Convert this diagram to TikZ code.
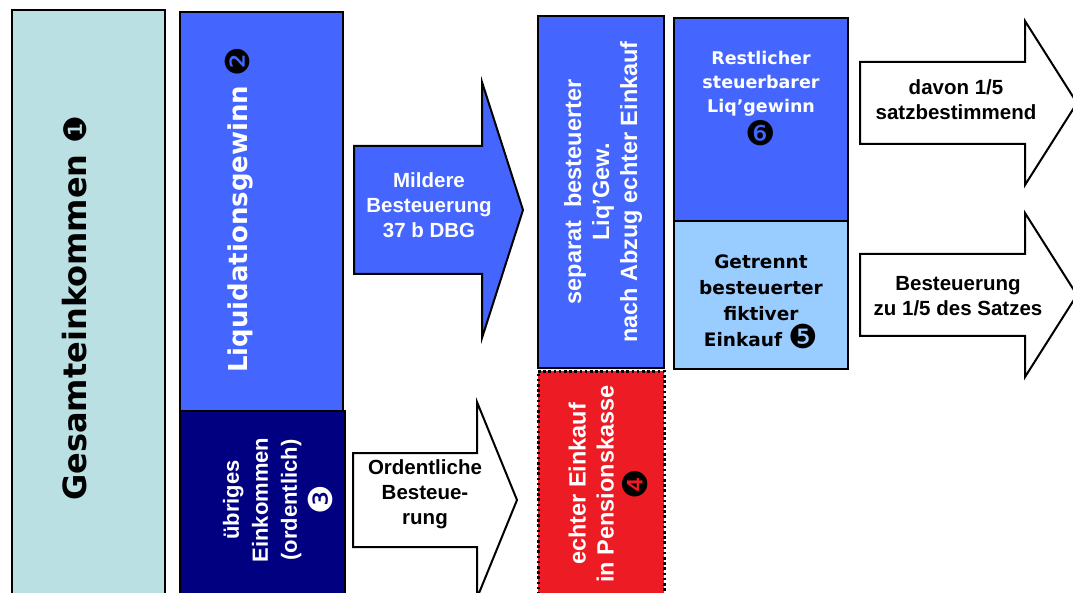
\documentclass[tikz,border=0pt]{standalone}
\usepackage{fontspec}
\setmainfont{Liberation Sans}
\newfontfamily\vfont{DejaVu Sans}
\newfontfamily\dv{DejaVu Sans}[BoldFont=DejaVu Sans]
\definecolor{teal1}{HTML}{BBE0E3}
\definecolor{blue1}{HTML}{4466FF}
\definecolor{navy1}{HTML}{000080}
\definecolor{red1}{HTML}{ED1C24}
\definecolor{lblue1}{HTML}{99CCFF}
% \cnum[colour]{size}{glyph}
\newcommand{\cnum}[3][black]{\smash{\dv\color{#1}\fontsize{#2}{#2}\selectfont #3}}
\begin{document}
\begin{tikzpicture}[x=1pt,y=-1pt,
  boxst/.style={draw=black,line width=1.5pt},
  arrst/.style={draw=black,line width=2pt,line join=miter},
  arial/.style={font=\bfseries\fontsize{20.5}{25}\selectfont,align=center,inner sep=0pt},
  vtxt/.style={align=center,inner sep=0pt,rotate=90}]
\path[use as bounding box,clip] (0,0) rectangle (1073,593);
\fill[white] (0,0) rectangle (1073,593);

% boxes
\draw[boxst,fill=teal1] (12,10) rectangle (165,605);
\draw[boxst,fill=blue1] (180,12) rectangle (343,411);
\draw[boxst,fill=navy1] (180,411) rectangle (345,605);
\draw[boxst,fill=blue1] (538,16) rectangle (664,368);
\fill[red1] (538,371) rectangle (664,605);
\draw[line width=3pt,dash pattern=on 2.6pt off 2.6pt] (538,605) -- (538,371) -- (664,371) -- (664,605);
\draw[boxst,fill=blue1] (674,18) rectangle (848,221);
\draw[boxst,fill=lblue1] (674,221) rectangle (848,369);

% arrows
\draw[arrst,fill=blue1] (354,146) -- (482,146) -- (482,82) -- (523,210) -- (482,338) -- (482,274) -- (354,274) -- cycle;
\draw[arrst,fill=white] (353,453) -- (477,453) -- (477,402) -- (517,500) -- (477,598) -- (477,547) -- (353,547) -- cycle;
\draw[arrst,fill=white] (860,62) -- (1025,62) -- (1025,21) -- (1077,103) -- (1025,185) -- (1025,144) -- (860,144) -- cycle;
\draw[arrst,fill=white] (860,254) -- (1025,254) -- (1025,213) -- (1077,295) -- (1025,377) -- (1025,336) -- (860,336) -- cycle;

% texts
\node[vtxt,font=\vfont\bfseries\fontsize{32}{38}\selectfont] (tgesamt) at (75,308) {Gesamteinkommen \cnum{31}{❶}};
\node[vtxt,text=white,font=\vfont\bfseries\fontsize{26}{30}\selectfont] (tliq) at (240,210) {Liquidationsgewinn \raisebox{-2pt}{\cnum{33}{❷}}};
\node[vtxt,text=white,font=\bfseries\fontsize{22}{29}\selectfont] (tueb) at (278,500) {übriges\\Einkommen\\(ordentlich)\\[4pt]\raisebox{-3pt}{\cnum[white]{33}{❸}}};
\node[arial,text=white] (tmild) at (429,205) {Mildere\\Besteuerung\\37 b DBG};
\node[arial] (tord) at (425,494) {Ordentliche\\Besteue-\\rung};
\node[vtxt,text=white,font=\bfseries\fontsize{23.5}{28}\selectfont] (tsep) at (603,192) {separat~ besteuerter\\Liq’Gew.\\nach Abzug echter Einkauf};
\node[vtxt,text=white,font=\bfseries\fontsize{23.5}{28}\selectfont] (tred) at (608,484) {echter Einkauf\\in Pensionskasse\\[4pt]\raisebox{-2pt}{\cnum{34}{❹}}};
\node[align=center,inner sep=0pt,text=white,font=\vfont\bfseries\fontsize{17.5}{24}\selectfont] (trest) at (761,98) {Restlicher\\steuerbarer\\Liq’gewinn\\[7pt]\raisebox{-2pt}{\cnum{34}{❻}}};
\node[align=center,inner sep=0pt,font=\vfont\bfseries\fontsize{18.5}{26}\selectfont] (tget) at (761,302) {Getrennt\\besteuerter\\fiktiver\\Einkauf \raisebox{-2pt}{\cnum{33}{❺}}};
\node[arial] (tdavon) at (956,100) {davon 1/5\\satzbestimmend};
\node[arial] (tbest) at (958,296) {Besteuerung\\zu 1/5 des Satzes};
\end{tikzpicture}
\end{document}
